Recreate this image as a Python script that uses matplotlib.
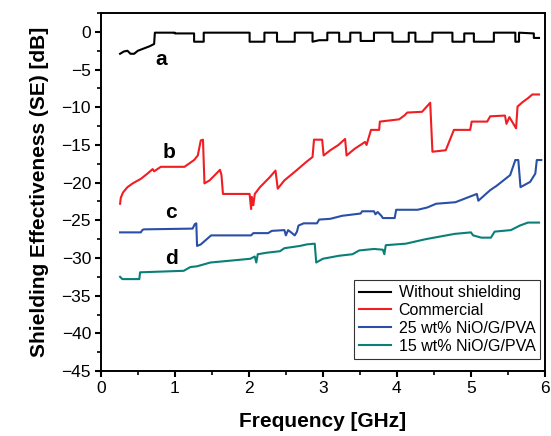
"""Shielding effectiveness vs frequency for NiO/G/PVA films."""

import matplotlib

matplotlib.use("Agg")
import matplotlib.pyplot as plt
from matplotlib.ticker import MultipleLocator

matplotlib.rcParams.update(
    {
        "font.family": ["Liberation Sans", "DejaVu Sans"],
        "font.size": 12,
        "axes.linewidth": 1.4,
    }
)

# a: without shielding
FREQ_A = [0.26, 0.31, 0.36, 0.40, 0.45, 0.50, 0.58, 0.66, 0.72, 0.73, 1.00, 1.00, 1.26, 1.26, 1.39,
          1.39, 2.01, 2.01, 2.21, 2.21, 2.38, 2.38, 2.62, 2.62, 2.86, 2.86, 2.95, 3.06, 3.06, 3.22,
          3.22, 3.37, 3.37, 3.51, 3.51, 3.69, 3.69, 3.94, 3.94, 4.16, 4.16, 4.25, 4.25, 4.48, 4.48,
          4.75, 4.75, 4.91, 4.91, 5.04, 5.04, 5.31, 5.31, 5.60, 5.60, 5.65, 5.65, 5.85, 5.85, 5.92]
SE_A = [-2.9, -2.6, -2.5, -2.9, -2.9, -2.5, -2.2, -1.9, -1.6, -0.1, -0.1, -0.2, -0.2, -1.3, -1.3,
        -0.1, -0.1, -1.3, -1.3, -0.1, -0.1, -1.3, -1.3, -0.1, -0.1, -1.3, -1.1, -1.1, -0.1, -0.1,
        -1.3, -1.3, -0.1, -0.1, -1.2, -1.2, -0.1, -0.1, -1.3, -1.3, -0.1, -0.1, -1.3, -1.3, -0.1,
        -0.1, -1.3, -1.3, -0.2, -0.2, -1.3, -1.3, -0.1, -0.1, -1.3, -1.3, -0.1, -0.2, -0.8, -0.8]

# b: commercial
FREQ_B = [0.26, 0.27, 0.30, 0.36, 0.43, 0.54, 0.63, 0.70, 0.72, 0.81, 1.13, 1.26, 1.31, 1.35, 1.38,
          1.40, 1.47, 1.61, 1.63, 1.65, 2.01, 2.03, 2.04, 2.06, 2.08, 2.15, 2.28, 2.36, 2.39, 2.48,
          2.64, 2.77, 2.86, 2.88, 2.99, 3.01, 3.10, 3.21, 3.30, 3.32, 3.43, 3.57, 3.59, 3.65, 3.76,
          3.77, 4.03, 4.10, 4.14, 4.34, 4.45, 4.48, 4.66, 4.77, 4.99, 5.01, 5.22, 5.26, 5.46, 5.48,
          5.52, 5.61, 5.63, 5.70, 5.77, 5.83, 5.92]
SE_B = [-22.8, -22.0, -21.3, -20.6, -20.1, -19.5, -18.8, -18.2, -18.5, -17.9, -17.9, -17.0, -16.4,
        -14.4, -14.3, -20.1, -19.7, -18.3, -19.0, -21.5, -21.5, -23.5, -21.9, -23.0, -21.5, -20.6,
        -19.3, -18.4, -20.8, -19.7, -18.4, -17.3, -16.6, -14.3, -14.3, -16.4, -15.7, -15.0, -14.2,
        -16.4, -15.5, -14.6, -15.0, -13.0, -13.0, -11.9, -11.6, -11.1, -10.7, -10.6, -9.4, -15.9,
        -15.7, -13.0, -13.0, -11.9, -11.9, -11.2, -11.1, -12.2, -11.3, -12.8, -9.9, -9.3, -8.8, -8.3,
        -8.3]

# c: 25 wt% NiO/G/PVA
FREQ_C = [0.26, 0.54, 0.56, 0.58, 1.24, 1.27, 1.29, 1.30, 1.35, 1.49, 2.03, 2.06, 2.26, 2.31, 2.48,
          2.50, 2.53, 2.57, 2.62, 2.65, 2.67, 2.74, 2.92, 2.95, 3.10, 3.26, 3.51, 3.53, 3.69, 3.71,
          3.74, 3.79, 3.81, 3.97, 3.99, 4.28, 4.41, 4.53, 4.79, 5.08, 5.10, 5.26, 5.35, 5.53, 5.60,
          5.64, 5.67, 5.80, 5.87, 5.89, 5.95]
SE_C = [-26.6, -26.6, -26.3, -26.2, -26.1, -25.5, -25.4, -28.4, -28.2, -27.0, -27.0, -26.7, -26.7,
        -26.4, -26.3, -27.0, -26.3, -26.6, -27.0, -26.5, -25.7, -25.4, -25.4, -24.9, -24.8, -24.4,
        -24.1, -23.8, -23.8, -24.2, -23.9, -24.4, -24.7, -24.7, -23.6, -23.6, -23.3, -22.8, -22.6,
        -21.5, -22.4, -21.0, -20.4, -19.0, -17.0, -17.0, -20.6, -19.9, -18.8, -17.0, -17.0]

# d: 15 wt% NiO/G/PVA
FREQ_D = [0.26, 0.29, 0.52, 0.53, 1.12, 1.21, 1.30, 1.48, 1.70, 2.02, 2.08, 2.10, 2.12, 2.24, 2.42,
          2.48, 2.69, 2.78, 2.89, 2.91, 3.00, 3.22, 3.40, 3.49, 3.69, 3.81, 3.83, 3.85, 4.12, 4.39,
          4.78, 5.00, 5.03, 5.14, 5.27, 5.32, 5.54, 5.66, 5.77, 5.92]
SE_D = [-32.5, -32.8, -32.8, -31.9, -31.7, -31.2, -31.1, -30.6, -30.4, -30.1, -29.8, -30.6, -29.5,
        -29.3, -29.1, -28.7, -28.4, -28.2, -28.1, -30.6, -30.1, -29.7, -29.5, -29.0, -28.8, -28.9,
        -29.5, -28.3, -28.1, -27.5, -26.8, -26.6, -27.0, -27.3, -27.3, -26.5, -26.3, -25.7, -25.3,
        -25.3]

SERIES = [
    (FREQ_A, SE_A, "#000000", "Without shielding", "a", (0.82, -3.7)),
    (FREQ_B, SE_B, "#f01e23", "Commercial", "b", (0.92, -16.0)),
    (FREQ_C, SE_C, "#2a4fa6", "25 wt% NiO/G/PVA", "c", (0.95, -24.0)),
    (FREQ_D, SE_D, "#0a7f78", "15 wt% NiO/G/PVA", "d", (0.95, -30.1)),
]

fig = plt.figure(figsize=(5.51, 4.36), dpi=100)
ax = fig.add_axes([0.183, 0.149, 0.806, 0.821])

for freq, se, color, label, letter, pos in SERIES:
    ax.plot(freq, se, color=color, linewidth=1.5, label=label)
    ax.text(pos[0], pos[1], letter, fontsize=15, fontweight="bold", ha="center", va="center")

ax.set_xlim(0, 6)
ax.set_ylim(-45, 2.5)
ax.xaxis.set_major_locator(MultipleLocator(1))
ax.xaxis.set_minor_locator(MultipleLocator(0.5))
ax.yaxis.set_major_locator(MultipleLocator(5))
ax.yaxis.set_minor_locator(MultipleLocator(2.5))
ax.tick_params(which="major", direction="out", length=4, width=1.5, labelsize=12.5, pad=3)
ax.tick_params(which="minor", direction="out", length=3, width=1.2)
ax.set_xlabel("Frequency [GHz]", fontsize=15, fontweight="bold", labelpad=12)
ax.set_ylabel("Shielding Effectiveness (SE) [dB]", fontsize=15, fontweight="bold", labelpad=9)

leg = ax.legend(loc="lower right", bbox_to_anchor=(0.989, 0.035), fontsize=11.5, handlelength=2.0,
                frameon=True, fancybox=False, borderpad=0.3, labelspacing=0.18, handletextpad=0.5,
                borderaxespad=0)
leg.get_frame().set_edgecolor("#000000")
leg.get_frame().set_linewidth(0.8)

fig.savefig("out.png", dpi=100)
